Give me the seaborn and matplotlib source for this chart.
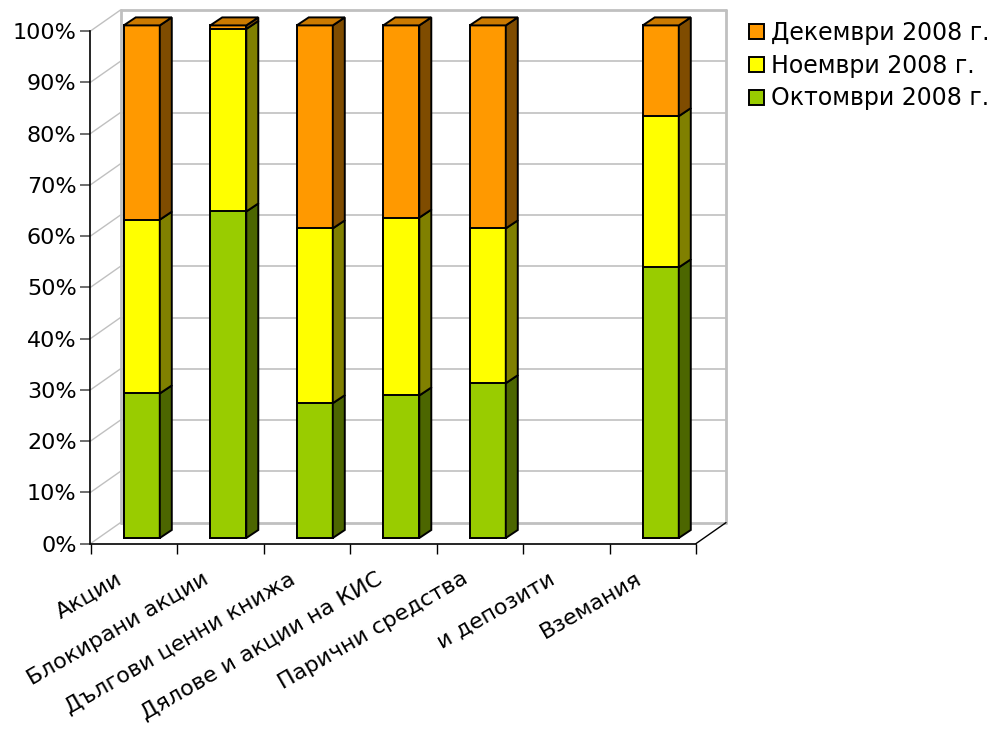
import matplotlib
matplotlib.use("Agg")
import matplotlib.pyplot as plt
import matplotlib.transforms as mtransforms
from matplotlib.patches import Polygon, Patch
import pandas as pd
import seaborn as sns

categories = ["Акции", "Блокирани акции", "Дългови ценни книжа",
              "Дялове и акции на КИС", "Парични средства", "и депозити", "Вземания"]
october = [28.2, 63.7, 26.3, 27.8, 30.2, 0.0, 52.8]
november = [33.9, 35.6, 34.1, 34.7, 30.2, 0.0, 29.5]
december = [37.9, 0.7, 39.6, 37.5, 39.6, 0.0, 17.7]
series_names = ["Октомври 2008 г.", "Ноември 2008 г.", "Декември 2008 г."]
y_ticks = list(range(0, 101, 10))

front_colors = ["#99cc00", "#ffff00", "#ff9900"]
side_colors = ["#4c6600", "#808000", "#7f4c00"]
top_colors = ["#7aa300", "#cccc00", "#cc7a00"]
wall_color = "#c0c0c0"

sns.set_style("white")
plt.rcParams["font.family"] = ["DejaVu Sans"]
plt.rcParams["text.color"] = "black"
plt.rcParams["xtick.color"] = "black"
plt.rcParams["ytick.color"] = "black"

df = pd.DataFrame({"category": categories, "oct": october, "nov": november, "dec": december})
df["c0"] = df["oct"]
df["c1"] = df["c0"] + df["nov"]
df["c2"] = df["c1"] + df["dec"]
cum_cols = ["c0", "c1", "c2"]

W, H = 1003, 731
fig = plt.figure(figsize=(W / 100, H / 100), dpi=100)
ax_left, ax_right, ax_bottom, ax_top = 90.5, 696, 543.6, 31
ax = fig.add_axes([ax_left / W, 1 - ax_bottom / H, (ax_right - ax_left) / W, (ax_bottom - ax_top) / H])

n = len(categories)
px_x = (ax_right - ax_left) / n       # pixels per category
px_y = (ax_bottom - ax_top) / 100     # pixels per percent
# depth of the 3d box and of the bars (pixels)
wall_dx, wall_dy = 30 / px_x, 21 / px_y
bar_dx, bar_dy = 12 / px_x, 8 / px_y
bar_tr = mtransforms.offset_copy(ax.transData, fig=fig, x=8, y=5.6, units="dots")

# stacked bars: draw cumulative totals, tallest first
level_patches = []
for k in reversed(range(3)):
    before = len(ax.patches)
    sns.barplot(data=df, x="category", y=cum_cols[k], order=categories, color=front_colors[k],
                saturation=1, width=0.417, edgecolor="black", linewidth=1.4, errorbar=None,
                ax=ax, zorder=3)
    level_patches.insert(0, ax.patches[before:])

for k in range(3):
    for p in level_patches[k]:
        p.set_transform(bar_tr)
        p.set_clip_on(False)
        if p.get_height() <= 0:
            p.set_visible(False)

# side and top faces
for i in range(n):
    prev = 0.0
    top_level = None
    for k in range(3):
        cur = df[cum_cols[k]].iloc[i]
        p = level_patches[k][i]
        xr = p.get_x() + p.get_width()
        if cur - prev > 0:
            side = Polygon([(xr, prev), (xr + bar_dx, prev + bar_dy), (xr + bar_dx, cur + bar_dy), (xr, cur)],
                           closed=True, facecolor=side_colors[k], edgecolor="black", linewidth=1.4,
                           transform=bar_tr, clip_on=False, zorder=4)
            ax.add_patch(side)
            top_level = k
        prev = cur
    if top_level is not None:
        p = level_patches[top_level][i]
        xl, xr = p.get_x(), p.get_x() + p.get_width()
        t = p.get_height()
        top = Polygon([(xl, t), (xl + bar_dx, t + bar_dy), (xr + bar_dx, t + bar_dy), (xr, t)],
                      closed=True, facecolor=top_colors[top_level], edgecolor="black", linewidth=1.4,
                      transform=bar_tr, clip_on=False, zorder=4)
        ax.add_patch(top)

ax.set_xlim(-0.5, n - 0.5)
ax.set_ylim(0, 100)

# back wall, side wall and floor
x0, x1 = -0.5, n - 0.5
for y in y_ticks:
    lw = 2 if y in (0, 100) else 1.2
    ax.plot([x0 + wall_dx, x1 + wall_dx], [y + wall_dy, y + wall_dy], color=wall_color, lw=lw,
            clip_on=False, zorder=1)
    ax.plot([x0, x0 + wall_dx], [y, y + wall_dy], color=wall_color, lw=1, clip_on=False, zorder=1)
ax.plot([x0 + wall_dx, x0 + wall_dx], [wall_dy, 100 + wall_dy], color=wall_color, lw=2, clip_on=False, zorder=1)
ax.plot([x1 + wall_dx, x1 + wall_dx], [wall_dy, 100 + wall_dy], color=wall_color, lw=2, clip_on=False, zorder=1)
ax.plot([x1, x1 + wall_dx], [0, wall_dy], color="black", lw=1, clip_on=False, zorder=2)

# axes
sns.despine(ax=ax, top=True, right=True)
for s in ("left", "bottom"):
    ax.spines[s].set_color("black")
    ax.spines[s].set_linewidth(1.2)
ax.set_xlabel("")
ax.set_ylabel("")
ax.set_yticks(y_ticks, labels=[f"{v}%" for v in y_ticks])
ax.tick_params(axis="y", left=True, length=7, width=1.2, color="#555555", pad=3, labelsize=16)
ax.set_xticks([b - 0.5 for b in range(n + 1)], labels=[""] * (n + 1))
ax.set_xticks(range(n), labels=categories, minor=True)
ax.tick_params(axis="x", which="major", bottom=True, length=7, width=1, color="black")
ax.tick_params(axis="x", which="minor", bottom=False, length=0, pad=18, labelsize=16)
shift = mtransforms.ScaledTranslation(-18 / 100, 0, fig.dpi_scale_trans)
for lab in ax.get_xticklabels(minor=True):
    lab.set_rotation(30)
    lab.set_ha("right")
    lab.set_va("top")
    lab.set_rotation_mode("anchor")
    lab.set_transform(lab.get_transform() + shift)
ax.grid(False)

# legend
handles = [Patch(facecolor=front_colors[k], edgecolor="black", linewidth=1.4, label=series_names[k])
           for k in reversed(range(3))]
fig.legend(handles=handles, loc="upper left", bbox_to_anchor=(749 / W, 1 - 21 / H), frameon=False,
           fontsize=17, handlelength=0.62, handleheight=0.62, handletextpad=0.3,
           labelspacing=0.37, borderaxespad=0, borderpad=0)

fig.savefig("out.png", dpi=100)
